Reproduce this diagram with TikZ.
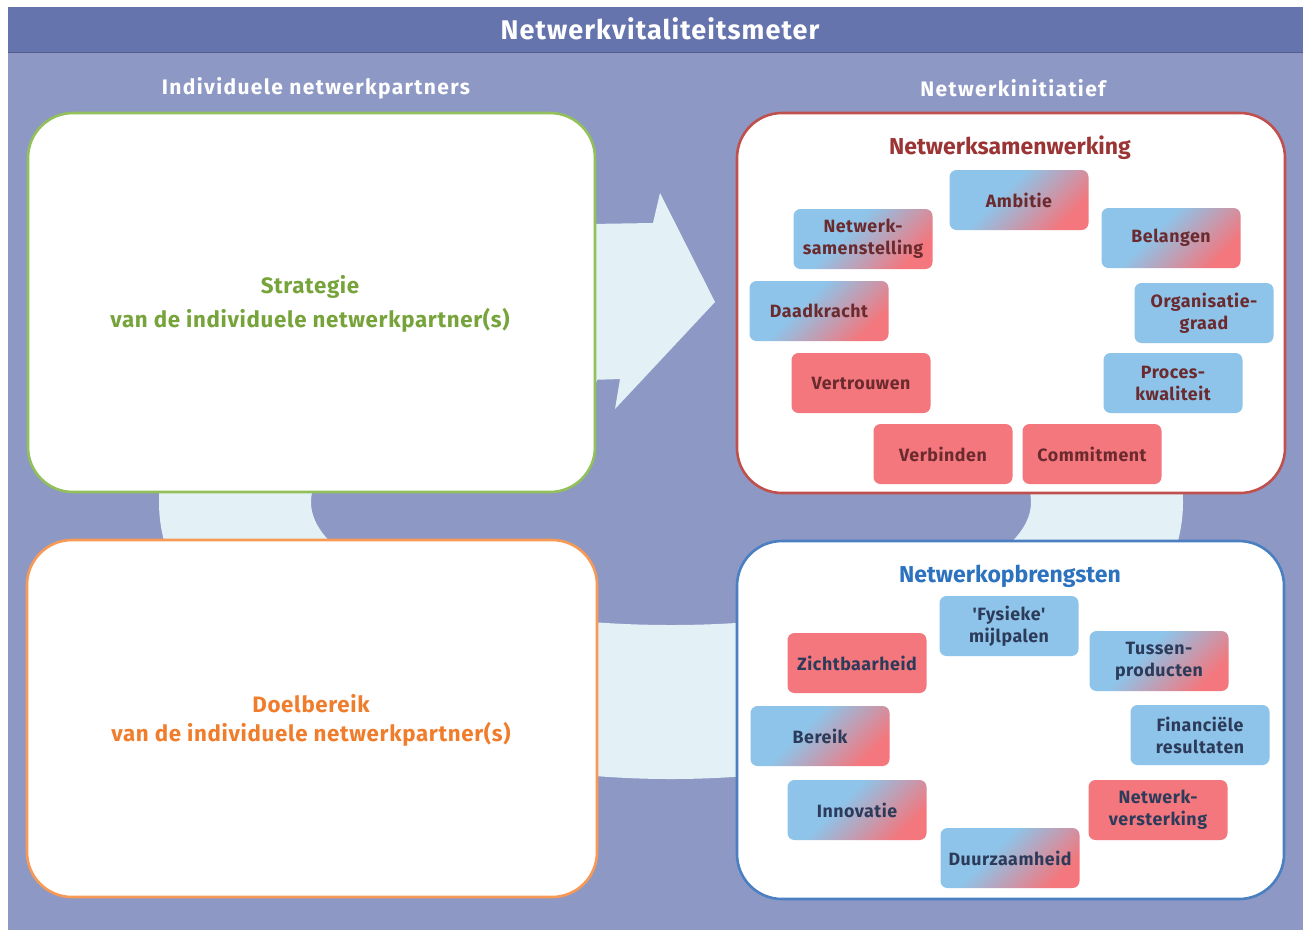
\documentclass[tikz,border=0pt]{standalone}
\usepackage{fontspec}
\setmainfont{Fira Sans}
\newfontfamily\spaced[LetterSpace=4]{Fira Sans}
\newfontfamily\wide[LetterSpace=6.5]{Fira Sans}
\newfontfamily\airy[LetterSpace=3]{Fira Sans}
\definecolor{bgpurple}{HTML}{8D98C5}
\definecolor{barpurple}{HTML}{6674AE}
\definecolor{ringblue}{HTML}{E3F1F7}
\definecolor{greenline}{HTML}{92C05A}
\definecolor{greentext}{HTML}{76A33A}
\definecolor{orangeline}{HTML}{F79A55}
\definecolor{orangetext}{HTML}{F07D2C}
\definecolor{redline}{HTML}{C0504D}
\definecolor{redtitle}{HTML}{9B3535}
\definecolor{blueline}{HTML}{4A7FC1}
\definecolor{bluetitle}{HTML}{2C72BE}
\definecolor{cellblue}{HTML}{8EC4E9}
\definecolor{cellred}{HTML}{F3777D}
\definecolor{wine}{HTML}{6A2A2E}
\definecolor{navy}{HTML}{2D3B5A}
\pgfdeclarehorizontalshading{duo}{100bp}{color(0bp)=(cellblue); color(42bp)=(cellblue); color(74bp)=(cellred); color(100bp)=(cellred)}
\begin{document}
\begin{tikzpicture}[x=1pt,y=-1pt,
  panel/.style={line width=2.6pt, fill=white, rounded corners=45pt},
  heading/.style={text=white, font=\wide\bfseries\fontsize{21}{24}\selectfont},
  bigtext/.style={font=\airy\bfseries\fontsize{22.3}{34}\selectfont, align=center},
  ptitle/.style={font=\bfseries\fontsize{23}{28}\selectfont},
  cell/.style={rounded corners=7pt, minimum width=139pt, minimum height=60pt,
    inner sep=0pt, align=center, font=\airy\bfseries\fontsize{17.8}{22}\selectfont},
  cb/.style={cell, fill=cellblue},
  cr/.style={cell, fill=cellred},
  cg/.style={cell, shading=duo, shading angle=-45},
  up/.style={text=wine},
  down/.style={text=navy}]
\useasboundingbox (0,0) rectangle (1303,930);
% background and title bar
\fill[bgpurple] (8,7) rectangle (1303,930);
\fill[barpurple] (8,7) rectangle (1303,52);
\draw[barpurple!80!black, line width=1pt] (8,52) -- (1303,52);
\node[text=white, font=\spaced\bfseries\fontsize{27}{30}\selectfont] (title) at (660,29) {Netwerkvitaliteitsmeter};
\node[heading] (lefthead) at (316,88) {Individuele netwerkpartners};
\node[heading] (righthead) at (1013,88) {Netwerkinitiatief};
% cycle band behind the panels
\fill[ringblue, even odd rule] (671,502) ellipse [x radius=512, y radius=277]
  (671,502) ellipse [x radius=360, y radius=123];
\fill[bgpurple] (597,180) rectangle (737,420);
\fill[ringblue] (590,224) -- (653,223) -- (660,193) -- (715,302) -- (615,409) -- (620,379) -- (590,380) -- cycle;
% panels
\draw[panel, draw=greenline] (28,113) rectangle (595,492);
\draw[panel, draw=orangeline] (27,540) rectangle (597,897);
\draw[panel, draw=redline] (737,113) rectangle (1285,493);
\draw[panel, draw=blueline] (737,541) rectangle (1284,899);
\node[bigtext, text=greentext] (strat) at (310,304) {Strategie\\van de individuele netwerkpartner(s)};
\node[bigtext, text=orangetext, font=\airy\bfseries\fontsize{22.3}{29}\selectfont] (doel) at (311,720) {Doelbereik\\van de individuele netwerkpartner(s)};
\node[ptitle, text=redtitle] (samen) at (1010,148) {Netwerksamenwerking};
\node[ptitle, text=bluetitle] (opbr) at (1010,576) {Netwerkopbrengsten};
% collaboration factors
\node[cg, up] (ambitie) at (1019,200) {Ambitie};
\node[cg, up] (samenst) at (863,239) {Netwerk-\\samenstelling};
\node[cg, up] (belangen) at (1171,238) {Belangen};
\node[cg, up] (daad) at (819,311) {Daadkracht};
\node[cb, up] (org) at (1204,313) {Organisatie-\\graad};
\node[cr, up] (vertr) at (861,383) {Vertrouwen};
\node[cb, up] (proces) at (1173,383) {Proces-\\kwaliteit};
\node[cr, up] (verb) at (943,454) {Verbinden};
\node[cr, up] (commit) at (1092,454) {Commitment};
% yield factors
\node[cb, down] (fys) at (1009,626) {'Fysieke'\\mijlpalen};
\node[cr, down] (zicht) at (857,663) {Zichtbaarheid};
\node[cg, down] (tussen) at (1159,661) {Tussen-\\producten};
\node[cb, down] (fin) at (1200,735) {Financiële\\resultaten};
\node[cg, down] (bereik) at (820,736) {Bereik};
\node[cr, down] (verst) at (1158,810) {Netwerk-\\versterking};
\node[cg, down] (innov) at (857,810) {Innovatie};
\node[cg, down] (duur) at (1010,858) {Duurzaamheid};
\end{tikzpicture}
\end{document}
